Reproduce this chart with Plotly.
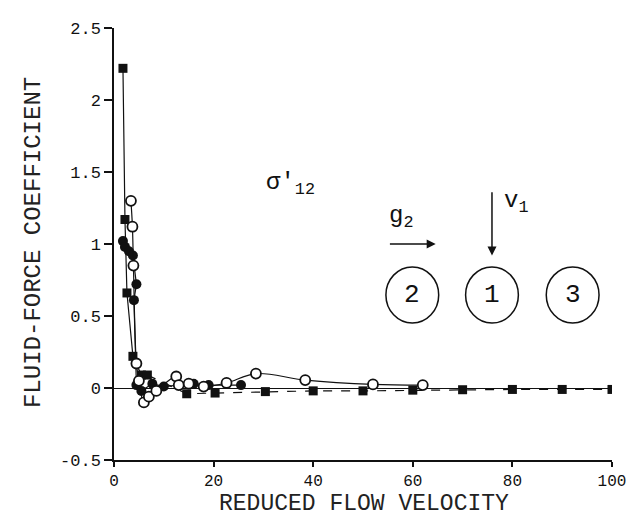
import plotly.graph_objects as go

# ---- data ----
sq_x = [1.8, 2.2, 2.6, 3.8, 5.5, 6.7, 14.6, 20.3, 30.4, 40, 50, 60, 70, 80, 90, 100]
sq_y = [2.22, 1.17, 0.66, 0.22, 0.09, 0.09, -0.04, -0.035, -0.025, -0.02, -0.02, -0.015, -0.012, -0.01, -0.01, -0.01]

oc_x = [3.4, 3.7, 3.9, 4.5, 5.0, 6.0, 7.0, 8.5, 12.5, 13.0, 15.0, 18.0, 22.6, 28.5, 38.4, 52.0, 62.0]
oc_y = [1.30, 1.12, 0.85, 0.17, 0.05, -0.10, -0.06, -0.02, 0.08, 0.02, 0.03, 0.01, 0.035, 0.10, 0.055, 0.025, 0.02]

fc_x = [1.8, 2.2, 3.0, 3.8, 4.5, 4.0, 4.5, 5.5, 7.7, 10.0, 16.0, 19.0, 25.5]
fc_y = [1.02, 0.98, 0.95, 0.92, 0.72, 0.61, 0.02, -0.02, 0.03, 0.01, 0.03, 0.02, 0.02]

x_ticks = [0, 20, 40, 60, 80, 100]
y_ticks = [-0.5, 0, 0.5, 1, 1.5, 2, 2.5]
y_tick_text = ["-0.5", "0", "0.5", "1", "1.5", "2", "2.5"]

FONT = "Liberation Mono"
BLACK = "#111111"

fig = go.Figure()

# solid line through the steep part of the square series
fig.add_trace(go.Scatter(x=sq_x[:6], y=sq_y[:6], mode="lines",
                         line=dict(color=BLACK, width=1.2), showlegend=False))
# dashed line through the rest of the square series
fig.add_trace(go.Scatter(x=sq_x[5:], y=sq_y[5:], mode="lines",
                         line=dict(color=BLACK, width=1.2, dash="dash"), showlegend=False))
fig.add_trace(go.Scatter(x=sq_x, y=sq_y, mode="markers",
                         marker=dict(symbol="square", size=9, color=BLACK), showlegend=False))

fig.add_trace(go.Scatter(x=fc_x, y=fc_y, mode="lines+markers",
                         line=dict(color=BLACK, width=1.2),
                         marker=dict(symbol="circle", size=10, color=BLACK), showlegend=False))

fig.add_trace(go.Scatter(x=oc_x, y=oc_y, mode="lines+markers",
                         line=dict(color=BLACK, width=1.2, shape="spline"),
                         marker=dict(symbol="circle", size=10, color="white",
                                     line=dict(color=BLACK, width=1.8)), showlegend=False))

# ---- diagram annotations ----
ann_font = dict(family=FONT, size=24, color=BLACK)
fig.add_annotation(x=35.5, y=1.42, text="σ'<sub>12</sub>", showarrow=False, font=ann_font)
fig.add_annotation(x=57.7, y=1.19, text="g<sub>2</sub>", showarrow=False, font=ann_font)
fig.add_annotation(x=80.8, y=1.29, text="v<sub>1</sub>", showarrow=False, font=ann_font)

# horizontal arrow
fig.add_annotation(x=64.6, y=1.0, ax=55.1, ay=1.0, xref="x", yref="y", axref="x", ayref="y",
                   text="", showarrow=True, arrowhead=2, arrowsize=1.2, arrowwidth=1.5,
                   arrowcolor=BLACK)
# vertical arrow
fig.add_annotation(x=75.9, y=0.92, ax=75.9, ay=1.37, xref="x", yref="y", axref="x", ayref="y",
                   text="", showarrow=True, arrowhead=2, arrowsize=1.2, arrowwidth=1.5,
                   arrowcolor=BLACK)

cyl_x = [59.9, 75.9, 92.1]
cyl_lab = ["2", "1", "3"]
for cx, lab in zip(cyl_x, cyl_lab):
    fig.add_shape(type="circle", xref="x", yref="y",
                  x0=cx - 5.3, x1=cx + 5.3, y0=0.646 - 0.195, y1=0.646 + 0.195,
                  line=dict(color=BLACK, width=1.5))
    fig.add_annotation(x=cx, y=0.646, text=lab, showarrow=False,
                       font=dict(family=FONT, size=26, color=BLACK))

# axis titles
fig.add_annotation(xref="paper", yref="paper", x=0.502, y=-0.101, text="REDUCED FLOW VELOCITY",
                   showarrow=False, yanchor="middle",
                   font=dict(family=FONT, size=23, color="#222222"))
fig.add_annotation(xref="paper", yref="paper", x=-0.162, y=0.503, text="FLUID-FORCE COEFFICIENT",
                   showarrow=False, textangle=-90, xanchor="center", yanchor="middle",
                   font=dict(family=FONT, size=24, color="#222222"))

fig.update_layout(
    width=630, height=510,
    margin=dict(l=106, r=18, t=15, b=58),
    paper_bgcolor="white", plot_bgcolor="white",
    showlegend=False,
    xaxis=dict(range=[0, 100], tickvals=x_ticks, showgrid=False, zeroline=False,
               showline=True, linecolor=BLACK, linewidth=1.5,
               ticks="outside", ticklen=5, tickwidth=1.5, tickcolor=BLACK,
               tickfont=dict(family=FONT, size=16, color=BLACK)),
    yaxis=dict(range=[-0.5, 2.5], tickvals=y_ticks, ticktext=y_tick_text, showgrid=False,
               zeroline=True, zerolinecolor=BLACK, zerolinewidth=1.2,
               showline=True, linecolor=BLACK, linewidth=1.5,
               ticks="outside", ticklen=8, tickwidth=1.5, tickcolor=BLACK,
               tickfont=dict(family=FONT, size=17, color=BLACK)),
)

fig.write_html("out.html")
